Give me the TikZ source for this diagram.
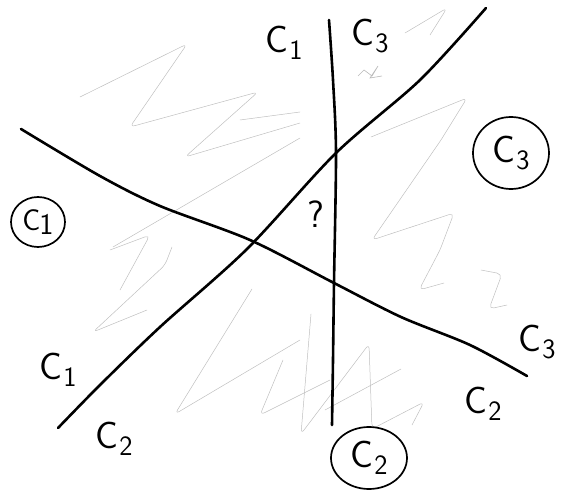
\documentclass[tikz,border=0pt]{standalone}
\newcommand\Csub[1]{C\kern1pt\raisebox{-0.45ex}{\fontsize{28}{30}\selectfont #1}}
\begin{document}
\begin{tikzpicture}[x=1pt,y=-1pt,
  bound/.style={line width=2.6pt,line cap=round,line join=round},
  scrib/.style={gray!50,line width=0.5pt,line cap=round,line join=round,rounded corners=5pt},
  lab/.style={font=\sffamily\fontsize{38}{40}\selectfont,inner sep=1pt},
  ring/.style={line width=1.7pt}]
\useasboundingbox (0,0) rectangle (568,494);
% light scribbles
\draw[scrib] (80,97) -- (187,44) -- (130,127) -- (258,92) -- (185,157) -- (300,123);
\draw[scrib] (113,247) -- (300,138);
\draw[scrib] (240,120) -- (300,112);
\draw[scrib] (405,33) -- (447,8) -- (430,35);
\draw[scrib] (371,137) -- (467,98) -- (441,140) -- (372,240) -- (454,213) -- (440,250) -- (419,290) -- (444,283);
\draw[scrib] (481,270) -- (502,274) -- (489,309) -- (507,305);
\draw[scrib] (172,247) -- (165,265) -- (93,332) -- (147,310);
\draw[scrib] (252,289) -- (175,414) -- (300,340);
\draw[scrib] (283,360) -- (260,415) -- (330,380);
\draw[scrib] (311,314) -- (301,434) -- (369,344) -- (372,429) -- (424,402) -- (412,425);
\draw[scrib] (325,410) -- (401,369);
\draw[scrib] (110,250) -- (150,235) -- (120,290);
\draw[gray!55,line width=0.6pt] (358,76) -- (364,70) -- (372,76) -- (378,66) -- (370,78) -- (382,76);
% boundary lines
\draw[bound] plot[smooth,tension=0.5] coordinates {(21,129) (100,176) (160,206) (250,240) (334,283) (401,317) (470,345) (527,376)};
\draw[bound] plot[smooth,tension=0.5] coordinates {(58,428) (100,385) (160,327) (247,249) (336,153) (420,80) (486,8)};
\draw[bound] plot[smooth,tension=0.5] coordinates {(329,20) (333,80) (336,153) (334,283) (333,360) (332,425)};
% labels
\node[lab] (c1top) at (284,43) {\Csub{1}};
\node[lab] (c3top) at (370,36) {\Csub{3}};
\node[lab] (q) at (316,214) {?};
\node[lab] (c1bl) at (58,370) {\Csub{1}};
\node[lab] (c2bl) at (114,439) {\Csub{2}};
\node[lab] (c3r) at (537,342) {\Csub{3}};
\node[lab] (c2r) at (483,404) {\Csub{2}};
\draw[ring] (511,153) ellipse (38 and 36);
\node[lab] (cc3) at (511,153) {\Csub{3}};
\draw[ring] (38,222) ellipse (27 and 25);
\node[lab,font=\sffamily\fontsize{30}{32}\selectfont] (cc1) at (38,222) {C\kern-1pt\raisebox{-0.3ex}{1}};
\draw[ring] (369,458) ellipse (38 and 31);
\node[lab] (cc2) at (369,458) {\Csub{2}};
\end{tikzpicture}
\end{document}
